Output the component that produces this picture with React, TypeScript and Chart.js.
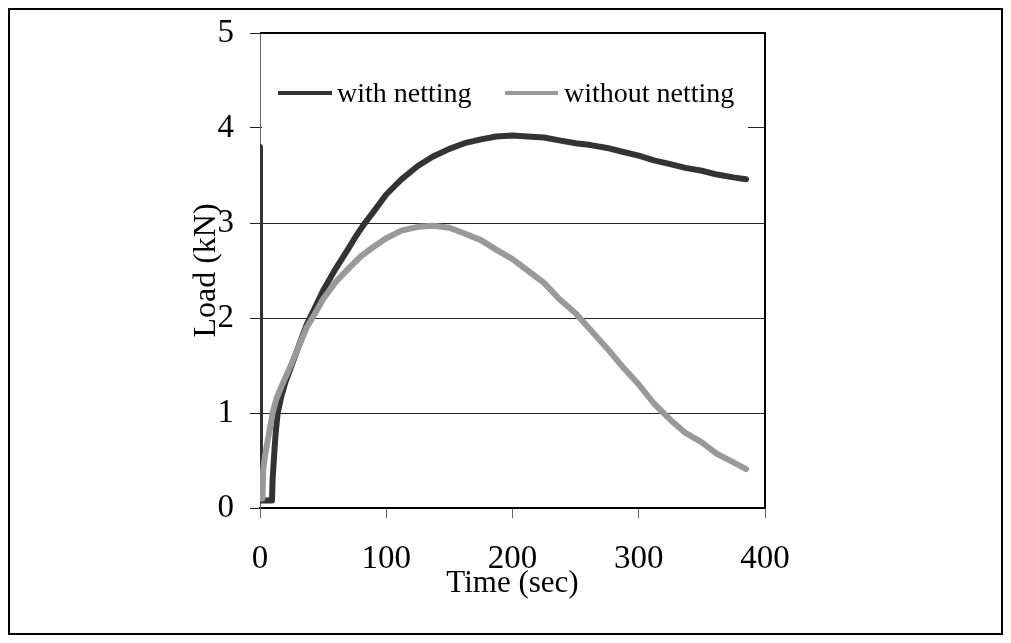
import { useEffect, useRef } from "react";
import { Chart, registerables } from "chart.js";

Chart.register(...registerables);

const withNettingTime = [0, 0, 9.5, 10, 11.5, 12.5, 14, 17, 20, 25, 30, 37, 45, 50, 60, 70, 75, 82, 90, 100, 112, 125, 137, 150, 162, 175, 187, 200, 212, 225, 237, 250, 262, 275, 287, 300, 312, 325, 337, 350, 362, 375, 385];
const withNettingLoad = [3.8, 0.08, 0.08, 0.3, 0.62, 0.8, 1.0, 1.18, 1.32, 1.5, 1.68, 1.93, 2.15, 2.29, 2.52, 2.73, 2.84, 2.98, 3.12, 3.3, 3.46, 3.6, 3.7, 3.78, 3.84, 3.88, 3.91, 3.92, 3.91, 3.9, 3.87, 3.84, 3.82, 3.79, 3.75, 3.71, 3.66, 3.62, 3.58, 3.55, 3.51, 3.48, 3.46];

const withoutNettingTime = [0, 2, 2.5, 4, 6, 8, 10, 13, 17, 20, 25, 30, 37, 45, 50, 60, 70, 80, 90, 100, 112, 125, 137, 150, 162, 175, 187, 200, 212, 225, 237, 250, 262, 275, 287, 300, 312, 325, 337, 350, 362, 375, 385];
const withoutNettingLoad = [0.1, 0.1, 0.4, 0.55, 0.7, 0.85, 1.0, 1.15, 1.28, 1.37, 1.52, 1.68, 1.9, 2.08, 2.2, 2.38, 2.52, 2.65, 2.75, 2.84, 2.92, 2.96, 2.97, 2.95, 2.89, 2.82, 2.72, 2.62, 2.5, 2.37, 2.2, 2.05, 1.87, 1.68, 1.49, 1.3, 1.1, 0.93, 0.79, 0.69, 0.57, 0.48, 0.41];

const xTickValues = [0, 100, 200, 300, 400];
const yTickValues = [0, 1, 2, 3, 4, 5];

const seriesLabels = ["with netting", "without netting"];
const seriesColors = ["#333333", "#999999"];

const FONT = "'Liberation Serif', 'Times New Roman', serif";

const framePlugin = {
  id: "frameAndLegend",
  beforeDatasetsDraw(chart: any) {
    const { ctx, chartArea } = chart;
    ctx.save();
    // legend box (white, covers gridline)
    ctx.fillStyle = "#ffffff";
    ctx.fillRect(chartArea.left + 2, 60, 486, 62);
    const items = [
      { x1: 268, x2: 322, tx: 327 },
      { x1: 495, x2: 548, tx: 554 },
    ];
    chart.data.datasets.forEach((ds: any, i: number) => {
      const it = items[i];
      ctx.strokeStyle = ds.borderColor;
      ctx.lineWidth = 4;
      ctx.lineCap = "butt";
      ctx.beginPath();
      ctx.moveTo(it.x1, 83);
      ctx.lineTo(it.x2, 83);
      ctx.stroke();
      ctx.fillStyle = "#000";
      ctx.font = `28px ${FONT}`;
      ctx.textBaseline = "alphabetic";
      ctx.textAlign = "left";
      ctx.fillText(ds.label, it.tx, 92);
    });
    ctx.restore();
  },
  afterDraw(chart: any) {
    const { ctx, chartArea } = chart;
    ctx.save();
    ctx.strokeStyle = "#000";
    ctx.lineWidth = 2;
    ctx.beginPath();
    ctx.moveTo(chartArea.left, chartArea.top);
    ctx.lineTo(chartArea.right, chartArea.top);
    ctx.lineTo(chartArea.right, chartArea.bottom);
    ctx.stroke();
    ctx.restore();
  },
};

export default function App() {
  const canvasRef = useRef<HTMLCanvasElement | null>(null);

  useEffect(() => {
    if (!canvasRef.current) return;
    const chart = new Chart(canvasRef.current, {
      type: "line",
      data: {
        datasets: [
          {
            label: seriesLabels[0],
            data: withNettingTime.map((t, i) => ({ x: t, y: withNettingLoad[i] })),
            borderColor: seriesColors[0],
            backgroundColor: seriesColors[0],
            borderWidth: 6,
            pointRadius: 0,
            tension: 0,
            borderJoinStyle: "round",
            borderCapStyle: "round",
            order: 1,
          },
          {
            label: seriesLabels[1],
            data: withoutNettingTime.map((t, i) => ({ x: t, y: withoutNettingLoad[i] })),
            borderColor: seriesColors[1],
            backgroundColor: seriesColors[1],
            borderWidth: 6,
            pointRadius: 0,
            tension: 0,
            borderJoinStyle: "round",
            borderCapStyle: "round",
            order: 0,
          },
        ],
      },
      options: {
        animation: false,
        responsive: true,
        maintainAspectRatio: false,
        layout: { padding: { left: 0, right: 236, top: 23, bottom: 0 } },
        plugins: {
          legend: { display: false },
          tooltip: { enabled: false },
        },
        scales: {
          x: {
            type: "linear",
            min: 0,
            max: 400,
            afterBuildTicks: (s: any) => {
              s.ticks = xTickValues.map((v) => ({ value: v }));
            },
            afterFit: (s: any) => {
              s.height = 125;
              s.paddingLeft = 0;
              s.paddingRight = 0;
            },
            grid: {
              drawOnChartArea: false,
              drawTicks: true,
              tickLength: 10,
              color: "#666",
              lineWidth: 1,
            },
            border: { display: true, color: "#000", width: 2 },
            ticks: {
              font: { family: FONT, size: 33 },
              color: "#000",
              padding: 22,
              maxRotation: 0,
              autoSkip: false,
            },
            title: {
              display: true,
              text: "Time (sec)",
              font: { family: FONT, size: 31 },
              color: "#000",
              padding: { top: 0, bottom: 31 },
            },
          },
          y: {
            type: "linear",
            min: 0,
            max: 5,
            afterBuildTicks: (s: any) => {
              s.ticks = yTickValues.map((v) => ({ value: v }));
            },
            afterFit: (s: any) => {
              s.width = 250;
              s.paddingTop = 0;
              s.paddingBottom = 0;
            },
            grid: {
              drawOnChartArea: true,
              drawTicks: true,
              tickLength: 10,
              color: "#222",
              lineWidth: 1,
            },
            border: { display: true, color: "#666", width: 1 },
            ticks: {
              font: { family: FONT, size: 33 },
              color: "#000",
              padding: 16,
              autoSkip: false,
            },
            title: {
              display: true,
              text: "Load (kN)",
              font: { family: FONT, size: 32 },
              color: "#000",
              padding: { top: 177, bottom: 0 },
            },
          },
        },
      },
      plugins: [framePlugin],
    } as any);
    return () => chart.destroy();
  }, []);

  return (
    <div
      style={{
        width: 995,
        height: 627,
        border: "2px solid #000",
        boxSizing: "border-box",
        position: "relative",
        background: "#fff",
      }}
    >
      <canvas ref={canvasRef} />
    </div>
  );
}
